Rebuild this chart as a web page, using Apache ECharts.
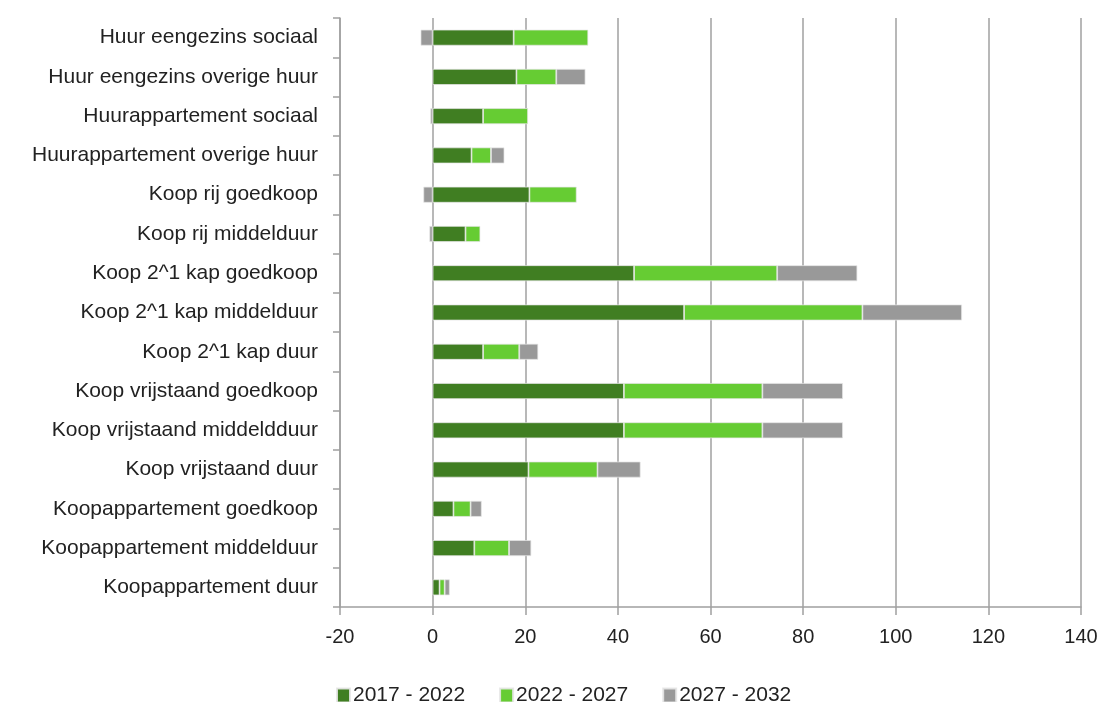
<!DOCTYPE html>
<html>
<head>
<meta charset="utf-8">
<script src="https://cdn.jsdelivr.net/npm/echarts@6/dist/echarts.min.js"></script>
<style>html,body{margin:0;padding:0;background:#fff;}#c{width:1102px;height:702px;}</style>
</head>
<body>
<div id="c"></div>
<script>
const categories = [
  "Huur eengezins sociaal",
  "Huur eengezins overige huur",
  "Huurappartement sociaal",
  "Huurappartement overige huur",
  "Koop rij goedkoop",
  "Koop rij middelduur",
  "Koop 2^1 kap goedkoop",
  "Koop 2^1 kap middelduur",
  "Koop 2^1 kap duur",
  "Koop vrijstaand goedkoop",
  "Koop vrijstaand middeldduur",
  "Koop vrijstaand duur",
  "Koopappartement goedkoop",
  "Koopappartement middelduur",
  "Koopappartement duur"
];
const seriesNames = ["2017 - 2022", "2022 - 2027", "2027 - 2032"];
const s2017 = [17.5, 18.1, 10.9, 8.4, 20.9, 7.1, 43.5, 54.3, 10.9, 41.3, 41.3, 20.7, 4.5, 9.0, 1.5];
const s2022 = [16.1, 8.6, 9.7, 4.2, 10.2, 3.2, 30.9, 38.5, 7.8, 29.9, 29.9, 14.9, 3.7, 7.5, 1.1];
const s2027 = [-2.6, 6.3, -0.5, 2.9, -2.0, -0.7, 17.3, 21.5, 4.1, 17.4, 17.4, 9.3, 2.4, 4.8, 1.1];
const xTicks = { min: -20, max: 140, interval: 20 };
const colors = ["#407E22", "#66CC33", "#999999"];

const chart = echarts.init(document.getElementById('c'));
const font = "Liberation Sans";
const mk = (name, data, i) => ({
  name, type: 'bar', stack: 'total', data, barWidth: 16,
  itemStyle: { color: colors[i], borderColor: 'rgba(230,230,230,0.9)', borderWidth: 0.8 }
});
chart.setOption({
  animation: false,
  grid: { left: 340, right: 21, top: 18, bottom: 95, containLabel: false },
  legend: {
    top: 685, left: 336, padding: 0, itemWidth: 13, itemHeight: 14, itemGap: 34, icon: 'rect',
    textStyle: { fontFamily: font, fontSize: 21, color: '#222', padding: [0, 0, 0, -2] },
    data: seriesNames
  },
  xAxis: {
    type: 'value', min: xTicks.min, max: xTicks.max, interval: xTicks.interval,
    axisLine: { show: true, onZero: false, lineStyle: { color: '#a0a0a0', width: 1.5 } },
    axisTick: { show: true, length: 8, lineStyle: { color: '#a0a0a0', width: 1.5 } },
    axisLabel: { fontFamily: font, fontSize: 20, color: '#222', margin: 20 },
    splitLine: { show: true, lineStyle: { color: '#a0a0a0', width: 1.5 } }
  },
  yAxis: {
    type: 'category', data: categories, inverse: true,
    axisLine: { show: true, onZero: false, lineStyle: { color: '#a0a0a0', width: 1.5 } },
    axisTick: { show: true, length: 7, alignWithLabel: false, lineStyle: { color: '#a0a0a0', width: 1.5 } },
    axisLabel: { fontFamily: font, fontSize: 21, color: '#222', margin: 22 },
    splitLine: { show: false }
  },
  series: [mk(seriesNames[0], s2017, 0), mk(seriesNames[1], s2022, 1), mk(seriesNames[2], s2027, 2)]
});
</script>
</body>
</html>
